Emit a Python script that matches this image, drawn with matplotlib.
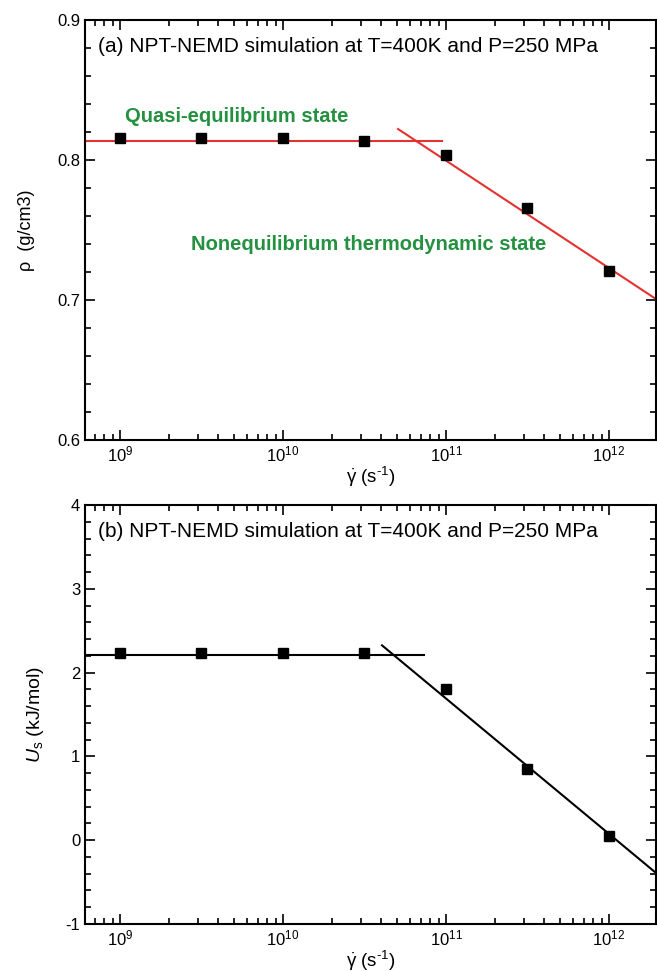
import numpy as np
import matplotlib
matplotlib.use('Agg')
import matplotlib.pyplot as plt
from matplotlib.ticker import LogLocator, MultipleLocator, NullFormatter

plt.rcParams['font.family'] = ['Liberation Sans', 'DejaVu Sans']
plt.rcParams['mathtext.fontset'] = 'custom'
plt.rcParams['mathtext.rm'] = 'Liberation Sans'
plt.rcParams['mathtext.it'] = 'Liberation Sans:italic'
plt.rcParams['axes.unicode_minus'] = False

# shear rates (s^-1)
rate = [1e9, 3.16e9, 1e10, 3.16e10, 1e11, 3.16e11, 1e12]
# (a) density g/cm3
rho = [0.8157, 0.8155, 0.8155, 0.8136, 0.8036, 0.766, 0.7207]
# (b) U_s kJ/mol
us = [2.24, 2.24, 2.24, 2.23, 1.80, 0.85, 0.05]

# fitted guide lines (two end points each)
rho_flat_x = [6.1e8, 9.4e10]
rho_flat_y = [0.8138, 0.8138]
rho_slope_x = [5.08e10, 1.94e12]
rho_slope_y = [0.8221, 0.7007]
us_flat_x = [6.1e8, 7.3e10]
us_flat_y = [2.21, 2.21]
us_slope_x = [4.05e10, 1.94e12]
us_slope_y = [2.325, -0.39]

red = '#e3322f'
green = '#23913f'

fig = plt.figure(figsize=(6.57, 9.71), dpi=100)
ax1 = fig.add_axes([0.1294, 0.5469, 0.8690, 0.4325])
ax2 = fig.add_axes([0.1294, 0.0484, 0.8690, 0.4315])

def style(ax):
    ax.set_xscale('log')
    ax.set_xlim(6.1e8, 1.94e12)
    ax.xaxis.set_major_locator(LogLocator(base=10, numticks=10))
    ax.xaxis.set_minor_locator(LogLocator(base=10, subs=np.arange(2, 10), numticks=20))
    ax.xaxis.set_minor_formatter(NullFormatter())
    ax.tick_params(which='both', direction='in', top=True, right=True, labelsize=12, width=1.2)
    ax.tick_params(which='major', length=7)
    ax.tick_params(which='minor', length=4)
    for s in ax.spines.values():
        s.set_linewidth(1.5)
    ax.set_xlabel(r'$\dot{\mathrm{\gamma}}$ (s$^{\text{-}1}$)', fontsize=13.5, labelpad=0)

style(ax1)
ax1.set_ylim(0.6, 0.9)
ax1.yaxis.set_major_locator(MultipleLocator(0.1))
ax1.yaxis.set_minor_locator(MultipleLocator(0.02))
ax1.plot(rho_flat_x, rho_flat_y, color=red, lw=1.5)
ax1.plot(rho_slope_x, rho_slope_y, color=red, lw=1.5)
ax1.plot(rate, rho, 's', color='black', ms=7)
ax1.set_ylabel('\u03c1  (g/cm3)', fontsize=13, labelpad=16)
ax1.text(0.022, 0.937, '(a) NPT-NEMD simulation at T=400K and P=250 MPa',
         transform=ax1.transAxes, fontsize=15, va='center')
ax1.text(0.07, 0.77, 'Quasi-equilibrium state', transform=ax1.transAxes,
         fontsize=14.5, fontweight='bold', color=green, va='center')
ax1.text(0.185, 0.465, 'Nonequilibrium thermodynamic state', transform=ax1.transAxes,
         fontsize=14.5, fontweight='bold', color=green, va='center')

style(ax2)
ax2.set_ylim(-1, 4)
ax2.yaxis.set_major_locator(MultipleLocator(1))
ax2.yaxis.set_minor_locator(MultipleLocator(0.2))
ax2.plot(us_flat_x, us_flat_y, color='black', lw=1.5)
ax2.plot(us_slope_x, us_slope_y, color='black', lw=1.5)
ax2.plot(rate, us, 's', color='black', ms=7)
ax2.set_ylabel(r'$U_{\rm s}$ (kJ/mol)', fontsize=14, labelpad=14)
ax2.text(0.022, 0.937, '(b) NPT-NEMD simulation at T=400K and P=250 MPa',
         transform=ax2.transAxes, fontsize=15, va='center')

fig.savefig('out.png', dpi=100)
